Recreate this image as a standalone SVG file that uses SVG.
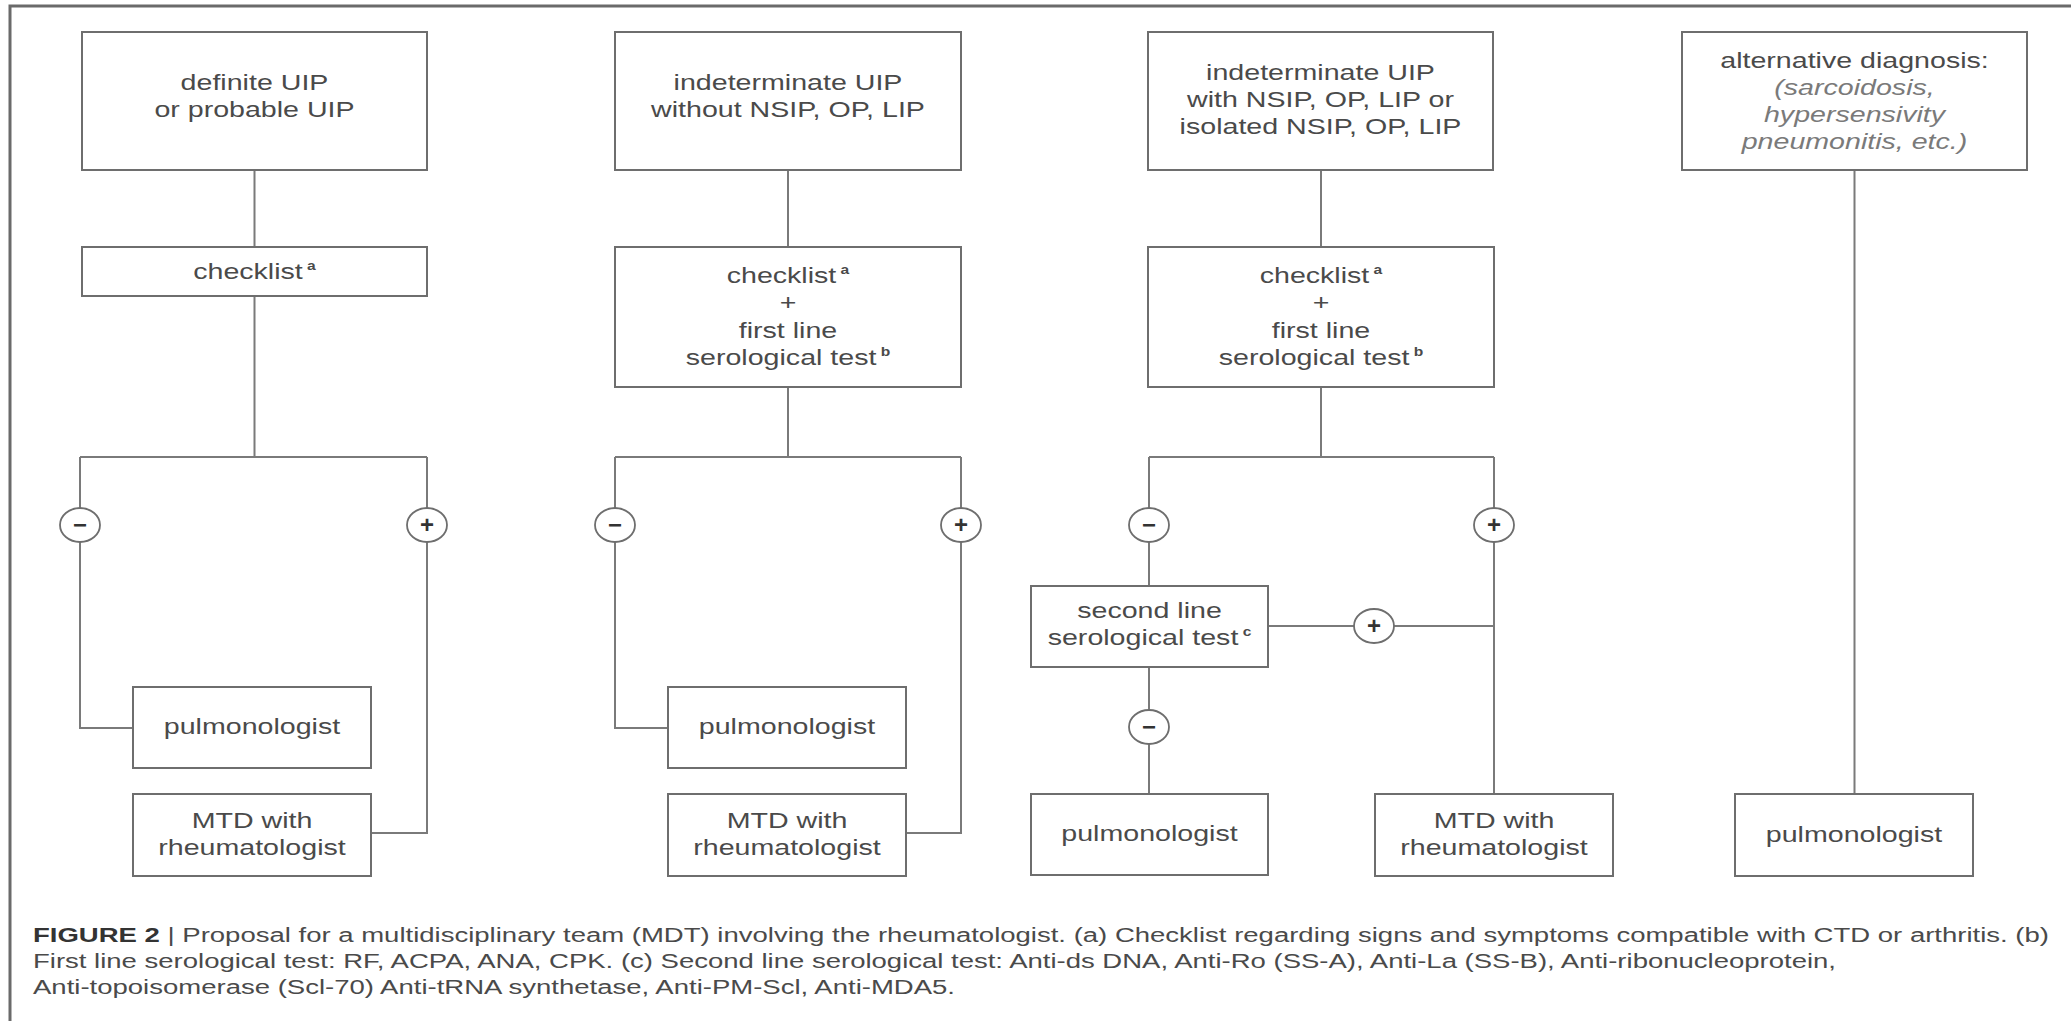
<svg xmlns="http://www.w3.org/2000/svg" width="2071" height="1021" viewBox="0 0 2071 1021">
  <style>
    .box { fill: #ffffff; stroke: #6e6e6e; stroke-width: 2; }
    .wire { fill: none; stroke: #7a7a7a; stroke-width: 2; }
    .sign { fill: #ffffff; stroke: #6e6e6e; stroke-width: 1.8; }
    .lbl { font-family: "Liberation Sans", Arial, sans-serif; font-size: 22px; fill: #4a4a4a; text-anchor: middle; }
    .note { font-style: italic; fill: #7a7a7a; }
    .sup { font-size: 12px; font-weight: bold; }
    .mark { font-family: "Liberation Sans", Arial, sans-serif; font-size: 24px; font-weight: bold; fill: #333333; text-anchor: middle; }
    .cap { font-family: "Liberation Sans", Arial, sans-serif; font-size: 19.5px; fill: #4a4a4a; }
    .frame { fill: none; stroke: #6a6a6a; stroke-width: 3; }
  </style>

  <rect width="2071" height="1021" fill="#ffffff"/>
  <!-- panel border (top and left edges) -->
  <path class="frame" d="M10 1021 V6 H2071"/>

  <!-- connectors -->
  <g id="connectors">
    <!-- column 1 -->
    <path class="wire" d="M254.5 170 V247 M254.5 296 V457 M80 457 H427 M80 457 V728 H133 M427 457 V833 H371"/>
    <!-- column 2 -->
    <path class="wire" d="M788 170 V247 M788 387 V457 M615 457 H961 M615 457 V728 H668 M961 457 V833 H906"/>
    <!-- column 3 -->
    <path class="wire" d="M1321 170 V247 M1321 387 V457 M1149 457 H1494 M1149 457 V586 M1149 667 V794 M1494 457 V794 M1268 626 H1494"/>
    <!-- column 4 -->
    <path class="wire" d="M1854.5 170 V794"/>
  </g>

  <!-- result markers on the branches -->
  <g id="signs">
    <ellipse class="sign" cx="80" cy="525" rx="20" ry="17"/><text class="mark" x="80" y="533">−</text>
    <ellipse class="sign" cx="427" cy="525" rx="20" ry="17"/><text class="mark" x="427" y="533">+</text>
    <ellipse class="sign" cx="615" cy="525" rx="20" ry="17"/><text class="mark" x="615" y="533">−</text>
    <ellipse class="sign" cx="961" cy="525" rx="20" ry="17"/><text class="mark" x="961" y="533">+</text>
    <ellipse class="sign" cx="1149" cy="525" rx="20" ry="17"/><text class="mark" x="1149" y="533">−</text>
    <ellipse class="sign" cx="1494" cy="525" rx="20" ry="17"/><text class="mark" x="1494" y="533">+</text>
    <ellipse class="sign" cx="1374" cy="626" rx="20" ry="17"/><text class="mark" x="1374" y="634">+</text>
    <ellipse class="sign" cx="1149" cy="727" rx="20" ry="17"/><text class="mark" x="1149" y="735">−</text>
  </g>

  <!-- column 1 -->
  <g id="definite-uip">
    <rect class="box" x="82" y="32" width="345" height="138"/>
    <g transform="translate(254.5,0) scale(1.3,1)">
      <text class="lbl" x="0" y="90">definite UIP</text>
      <text class="lbl" x="0" y="117">or probable UIP</text>
    </g>
  </g>
  <g id="checklist-1">
    <rect class="box" x="82" y="247" width="345" height="49"/>
    <g transform="translate(254.5,0) scale(1.3,1)">
      <text class="lbl" x="0" y="279">checklist<tspan class="sup" dy="-9"> a</tspan></text>
    </g>
  </g>
  <g id="pulmonologist-1">
    <rect class="box" x="133" y="687" width="238" height="81"/>
    <g transform="translate(252,0) scale(1.3,1)">
      <text class="lbl" x="0" y="734">pulmonologist</text>
    </g>
  </g>
  <g id="mtd-1">
    <rect class="box" x="133" y="794" width="238" height="82"/>
    <g transform="translate(252,0) scale(1.3,1)">
      <text class="lbl" x="0" y="828">MTD with</text>
      <text class="lbl" x="0" y="855">rheumatologist</text>
    </g>
  </g>

  <!-- column 2 -->
  <g id="indeterminate-without">
    <rect class="box" x="615" y="32" width="346" height="138"/>
    <g transform="translate(788,0) scale(1.3,1)">
      <text class="lbl" x="0" y="90">indeterminate UIP</text>
      <text class="lbl" x="0" y="117">without NSIP, OP, LIP</text>
    </g>
  </g>
  <g id="checklist-2">
    <rect class="box" x="615" y="247" width="346" height="140"/>
    <g transform="translate(788,0) scale(1.3,1)">
      <text class="lbl" x="0" y="283">checklist<tspan class="sup" dy="-9"> a</tspan></text>
      <text class="lbl" x="0" y="310">+</text>
      <text class="lbl" x="0" y="338">first line</text>
      <text class="lbl" x="0" y="365">serological test<tspan class="sup" dy="-9"> b</tspan></text>
    </g>
  </g>
  <g id="pulmonologist-2">
    <rect class="box" x="668" y="687" width="238" height="81"/>
    <g transform="translate(787,0) scale(1.3,1)">
      <text class="lbl" x="0" y="734">pulmonologist</text>
    </g>
  </g>
  <g id="mtd-2">
    <rect class="box" x="668" y="794" width="238" height="82"/>
    <g transform="translate(787,0) scale(1.3,1)">
      <text class="lbl" x="0" y="828">MTD with</text>
      <text class="lbl" x="0" y="855">rheumatologist</text>
    </g>
  </g>

  <!-- column 3 -->
  <g id="indeterminate-with">
    <rect class="box" x="1148" y="32" width="345" height="138"/>
    <g transform="translate(1320.5,0) scale(1.3,1)">
      <text class="lbl" x="0" y="80">indeterminate UIP</text>
      <text class="lbl" x="0" y="107">with NSIP, OP, LIP or</text>
      <text class="lbl" x="0" y="134">isolated NSIP, OP, LIP</text>
    </g>
  </g>
  <g id="checklist-3">
    <rect class="box" x="1148" y="247" width="346" height="140"/>
    <g transform="translate(1321,0) scale(1.3,1)">
      <text class="lbl" x="0" y="283">checklist<tspan class="sup" dy="-9"> a</tspan></text>
      <text class="lbl" x="0" y="310">+</text>
      <text class="lbl" x="0" y="338">first line</text>
      <text class="lbl" x="0" y="365">serological test<tspan class="sup" dy="-9"> b</tspan></text>
    </g>
  </g>
  <g id="second-line">
    <rect class="box" x="1031" y="586" width="237" height="81"/>
    <g transform="translate(1149.5,0) scale(1.3,1)">
      <text class="lbl" x="0" y="618">second line</text>
      <text class="lbl" x="0" y="645">serological test<tspan class="sup" dy="-9"> c</tspan></text>
    </g>
  </g>
  <g id="pulmonologist-3">
    <rect class="box" x="1031" y="794" width="237" height="81"/>
    <g transform="translate(1149.5,0) scale(1.3,1)">
      <text class="lbl" x="0" y="841">pulmonologist</text>
    </g>
  </g>
  <g id="mtd-3">
    <rect class="box" x="1375" y="794" width="238" height="82"/>
    <g transform="translate(1494,0) scale(1.3,1)">
      <text class="lbl" x="0" y="828">MTD with</text>
      <text class="lbl" x="0" y="855">rheumatologist</text>
    </g>
  </g>

  <!-- column 4 -->
  <g id="alternative">
    <rect class="box" x="1682" y="32" width="345" height="138"/>
    <g transform="translate(1854.5,0) scale(1.3,1)">
      <text class="lbl" x="0" y="68">alternative diagnosis:</text>
      <text class="lbl note" x="0" y="95">(sarcoidosis,</text>
      <text class="lbl note" x="0" y="122">hypersensivity</text>
      <text class="lbl note" x="0" y="149">pneumonitis, etc.)</text>
    </g>
  </g>
  <g id="pulmonologist-4">
    <rect class="box" x="1735" y="794" width="238" height="82"/>
    <g transform="translate(1854,0) scale(1.3,1)">
      <text class="lbl" x="0" y="842">pulmonologist</text>
    </g>
  </g>

  <!-- caption -->
  <g id="caption">
    <text class="cap" x="33" y="942" textLength="2016" lengthAdjust="spacingAndGlyphs"><tspan font-weight="bold" fill="#333333">FIGURE 2</tspan> | Proposal for a multidisciplinary team (MDT) involving the rheumatologist. (a) Checklist regarding signs and symptoms compatible with CTD or arthritis. (b)</text>
    <text class="cap" x="33" y="968" textLength="1803" lengthAdjust="spacingAndGlyphs">First line serological test: RF, ACPA, ANA, CPK. (c) Second line serological test: Anti-ds DNA, Anti-Ro (SS-A), Anti-La (SS-B), Anti-ribonucleoprotein,</text>
    <text class="cap" x="33" y="994" textLength="922" lengthAdjust="spacingAndGlyphs">Anti-topoisomerase (Scl-70) Anti-tRNA synthetase, Anti-PM-Scl, Anti-MDA5.</text>
  </g>
</svg>
